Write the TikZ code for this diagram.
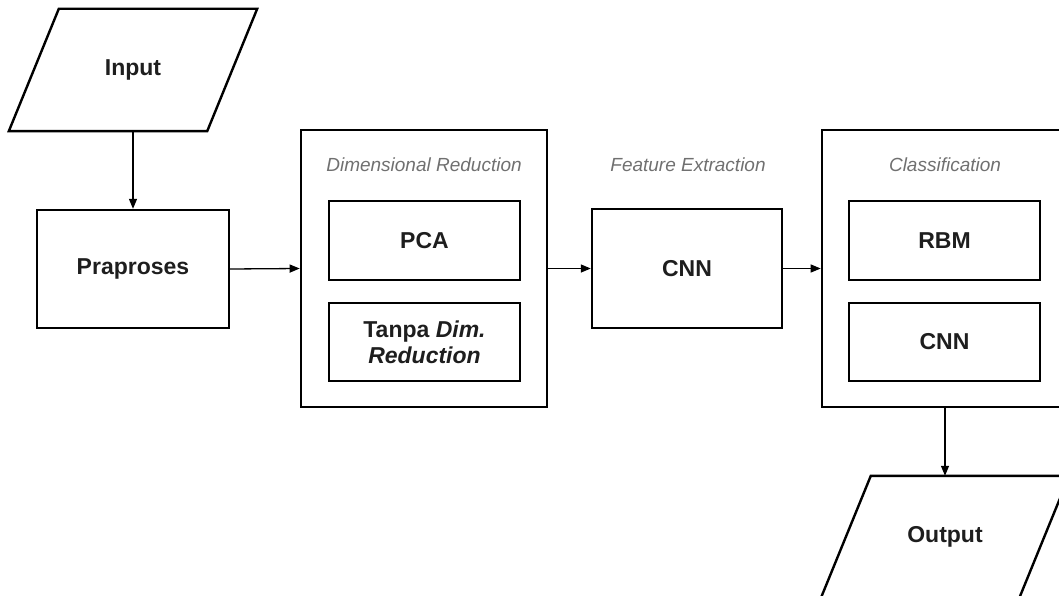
\documentclass[tikz,border=0pt]{standalone}
\usepackage{fontspec}
\setmainfont{Liberation Sans}
\usetikzlibrary{calc,arrows.meta,positioning}
\definecolor{labelgray}{HTML}{707070}
\definecolor{textdark}{HTML}{1E1E1E}

\begin{document}
\begin{tikzpicture}[x=1pt,y=-1pt,
    main/.style = {draw, line width=2.4pt, text=textdark, align=center, inner sep=0pt,
                   font=\fontsize{23}{26}\selectfont\bfseries},
    io/.style = {main, draw=none, minimum width=246pt, minimum height=120pt,
                 append after command={\pgfextra{
                   \draw[line width=2.4pt] ($(\tikzlastnode.north west)+(50,0)$)
                     -- (\tikzlastnode.north east) -- ($(\tikzlastnode.south east)-(50,0)$)
                     -- (\tikzlastnode.south west) -- cycle;}}},
    group/.style = {draw, line width=2.6pt, minimum width=246pt, minimum height=277pt},
    grouplabel/.style = {text=labelgray, font=\fontsize{19}{22}\selectfont\itshape},
    link/.style = {line width=1.3pt, -{Triangle[length=10pt,width=8pt]}}]

        \useasboundingbox (0,0) rectangle (1059,596);

        \node[io] (in) at (133,70) {Input};
        \node[main, minimum width=192pt, minimum height=118pt] (pra) at (133,269) {Praproses};

        %dimensional reduction
        \node[group] (dr) at (424,268.5) {};
        \node[grouplabel] (drlabel) at (424,165) {Dimensional Reduction};
        \node[main, minimum width=191pt, minimum height=79pt] (pca) at (424.5,240.5) {PCA};
        \node[main, minimum width=191pt, minimum height=78pt] (tanpa) at (424.5,342)
            {Tanpa \textit{Dim.}\\\textit{Reduction}};

        %feature extraction
        \node[grouplabel] (felabel) at (688,165) {Feature Extraction};
        \node[main, minimum width=190pt, minimum height=119pt] (fe) at (687,268.5) {CNN};

        %classification
        \node[group] (cls) at (945,268.5) {};
        \node[grouplabel] (clslabel) at (945,165) {Classification};
        \node[main, minimum width=191pt, minimum height=79pt] (rbm) at (944.5,240.5) {RBM};
        \node[main, minimum width=191pt, minimum height=78pt] (cnn) at (944.5,342) {CNN};

        \node[io] (out) at (945,537) {Output};

        \draw[link] (in) -- (pra);
        \draw[link] (pra.east) -- (dr.west);
        \draw[link] (dr.east) -- (fe.west);
        \draw[link] (fe.east) -- (cls.west);
        \draw[link] (cls) -- (out);

\end{tikzpicture}
\end{document}
